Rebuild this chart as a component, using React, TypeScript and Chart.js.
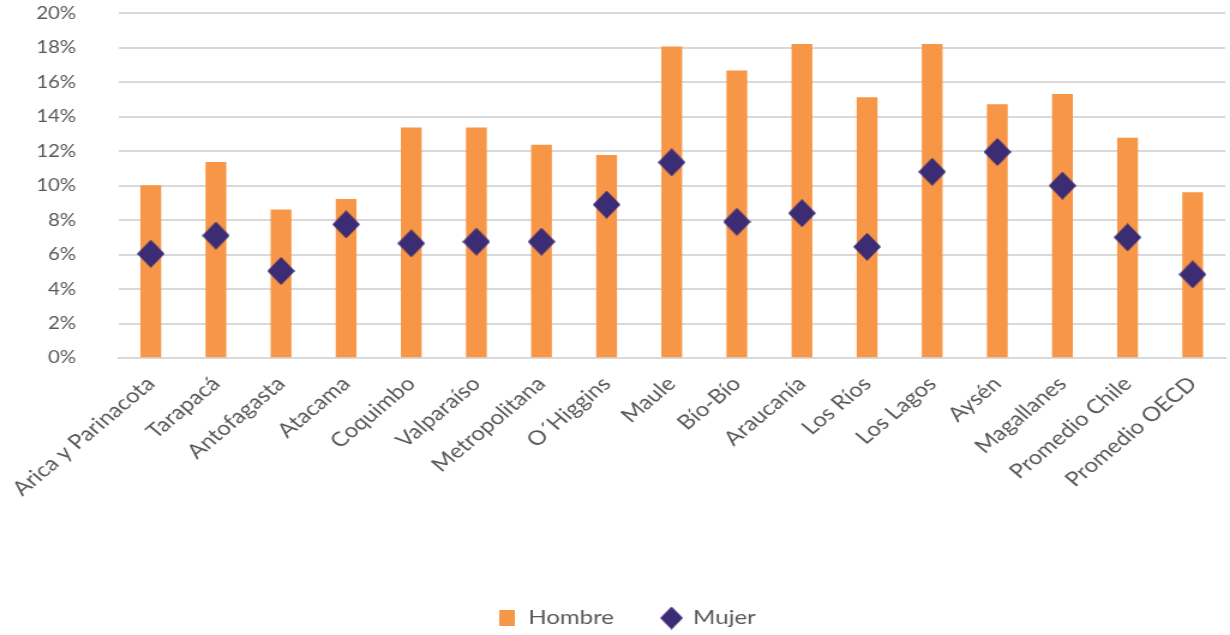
import React, { useEffect, useRef } from "react";
import { Chart, registerables } from "chart.js";

Chart.register(...registerables);

const categories = [
  "Arica y Parinacota",
  "Tarapacá",
  "Antofagasta",
  "Atacama",
  "Coquimbo",
  "Valparaíso",
  "Metropolitana",
  "O´Higgins",
  "Maule",
  "Bío-Bío",
  "Araucanía",
  "Los Ríos",
  "Los Lagos",
  "Aysén",
  "Magallanes",
  "Promedio Chile",
  "Promedio OECD",
];

const hombre = [10.0, 11.35, 8.6, 9.2, 13.35, 13.35, 12.35, 11.75, 18.05, 16.65, 18.2, 15.1, 18.2, 14.7, 15.3, 12.75, 9.6];
const mujer = [6.05, 7.1, 5.05, 7.75, 6.65, 6.75, 6.75, 8.9, 11.35, 7.9, 8.4, 6.45, 10.8, 11.95, 10.0, 7.0, 4.85];

const yTicks = [0, 2, 4, 6, 8, 10, 12, 14, 16, 18, 20];

const FONT = "Lato, 'Noto Sans', sans-serif";
const TEXT = "#595959";
const GRID = "#d9d9d9";
const ORANGE = "#f79646";
const PURPLE = "#3b2c74";

const SX = 1.2; // horizontal stretch of the whole picture
const W = 1230;
const H = 635;
const CW = Math.round(W / SX);

function shape(w: number, h: number, color: string, kind: "diamond" | "square") {
  const c = document.createElement("canvas");
  c.width = Math.round(w);
  c.height = Math.round(h);
  const g = c.getContext("2d")!;
  g.fillStyle = color;
  if (kind === "square") {
    g.fillRect(0, 0, c.width, c.height);
  } else {
    g.beginPath();
    g.moveTo(c.width / 2, 0);
    g.lineTo(c.width, c.height / 2);
    g.lineTo(c.width / 2, c.height);
    g.lineTo(0, c.height / 2);
    g.closePath();
    g.fill();
  }
  return c;
}

const LEGEND_CENTER_Y = 618;
const LEGEND_DX = 8;

const legendPlace = {
  id: "legendPlace",
  afterLayout(chart: any) {
    const lg = chart.legend;
    if (!lg) return;
    const pad = lg.options.labels.padding;
    const item = lg._itemHeight || 20;
    const newTop = LEGEND_CENTER_Y - pad - item / 2;
    const dy = newTop - lg.top;
    lg.top += dy;
    lg.bottom += dy;
    lg.left += LEGEND_DX;
    lg.right += LEGEND_DX;
  },
};

export default function App() {
  const ref = useRef<HTMLCanvasElement | null>(null);

  useEffect(() => {
    if (!ref.current) return;
    const mark = shape(28 / SX, 28, PURPLE, "diamond");
    const legendMark = shape(23 / SX, 23, PURPLE, "diamond");
    const legendSquare = shape(16 / SX, 16, ORANGE, "square");
    const chart = new Chart(ref.current, {
      type: "bar",
      plugins: [legendPlace],
      data: {
        labels: categories,
        datasets: [
          {
            type: "line",
            label: "Mujer",
            data: mujer,
            showLine: false,
            pointStyle: mark,
            backgroundColor: PURPLE,
            borderColor: PURPLE,
            borderWidth: 0,
            order: 0,
          } as any,
          {
            type: "bar",
            label: "Hombre",
            data: hombre,
            backgroundColor: ORANGE,
            borderWidth: 0,
            barThickness: 20 / SX,
            order: 1,
          } as any,
        ],
      },
      options: {
        animation: false,
        responsive: false,
        layout: { padding: { top: 12, right: -3, left: 0, bottom: 2 } },
        plugins: {
          tooltip: { enabled: false },
          legend: {
            position: "bottom",
            reverse: true,
            labels: {
              usePointStyle: true,
              pointStyleWidth: 16,
              boxHeight: 16,
              padding: 40,
              color: TEXT,
              font: { family: FONT, size: 20 },
              generateLabels: (ch: any) => {
                const items = Chart.defaults.plugins.legend.labels.generateLabels(ch);
                items.forEach((it: any) => {
                  it.pointStyle = it.text === "Mujer" ? legendMark : legendSquare;
                });
                return items;
              },
            },
          },
        },
        scales: {
          x: {
            grid: { display: false },
            border: { display: true, color: GRID, width: 2 },
            ticks: {
              color: TEXT,
              font: { family: FONT, size: 20 },
              minRotation: 45,
              maxRotation: 45,
              autoSkip: false,
              padding: 6,
            },
            afterFit: (s: any) => {
              const lh = s.chart.legend ? s.chart.legend.height : 0;
              s.height = H - 358 - lh - 2;
            },
          },
          y: {
            min: 0,
            max: 20,
            afterBuildTicks: (s: any) => {
              s.ticks = yTicks.map((v) => ({ value: v }));
            },
            grid: {
              color: GRID,
              lineWidth: 2,
              drawTicks: true,
              tickLength: 32,
              tickColor: "rgba(0,0,0,0)",
            },
            border: { display: false },
            ticks: {
              color: TEXT,
              font: { family: FONT, size: 17 },
              padding: 3,
              callback: (v: any) => v + "%",
            },
            afterFit: (s: any) => {
              s.width = 98.5;
            },
          },
        },
      },
    });
    return () => chart.destroy();
  }, []);

  return (
    <div style={{ position: "fixed", left: 0, top: 0, width: W, height: H, background: "#fff" }}>
      <canvas ref={ref} width={CW} height={H} style={{ width: W, height: H, display: "block" }} />
    </div>
  );
}
